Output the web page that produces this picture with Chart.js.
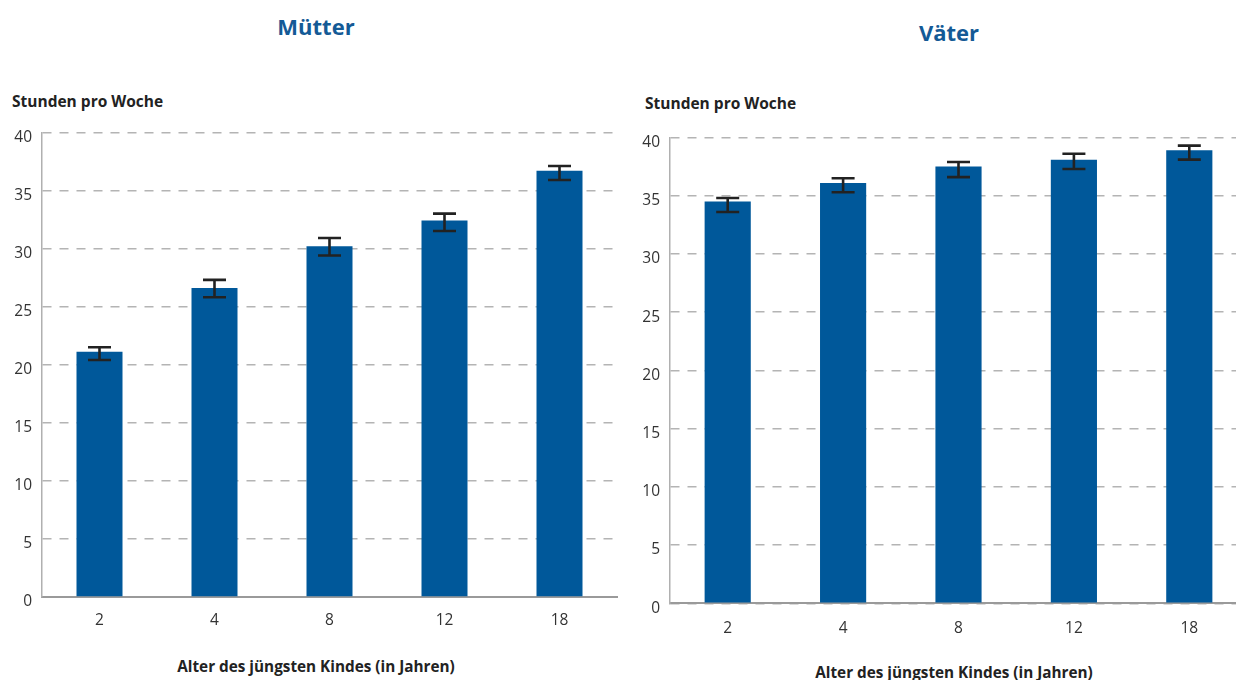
<!DOCTYPE html>
<html>
<head>
<meta charset="utf-8">
<script src="https://cdn.jsdelivr.net/npm/chart.js@4/dist/chart.umd.min.js"></script>
<style>
  html, body { margin: 0; padding: 0; width: 1236px; height: 680px; overflow: hidden; background: #fff; }
  body { position: relative; font-family: "Open Sans", sans-serif; }
  .title { position: absolute; font-weight: bold; font-size: 22px; color: #145a96; transform: translate(-50%, -50%); white-space: nowrap; }
  .ylab { position: absolute; font-weight: bold; font-size: 15.5px; color: #222; transform: translateY(-50%); white-space: nowrap; }
  .xlab { position: absolute; font-weight: bold; font-size: 15.3px; color: #222; transform: translate(-50%, -50%); white-space: nowrap; }
  canvas { position: absolute; top: 0; }
</style>
</head>
<body>
<div class="title" style="left:316px; top:26px;">Mütter</div>
<div class="title" style="left:949px; top:32px;">Väter</div>
<div class="ylab" style="left:12px; top:101px;">Stunden pro Woche</div>
<div class="ylab" style="left:645px; top:103px;">Stunden pro Woche</div>
<div class="xlab" style="left:316px; top:666px;">Alter des jüngsten Kindes (in Jahren)</div>
<div class="xlab" style="left:954px; top:672px;">Alter des jüngsten Kindes (in Jahren)</div>
<canvas id="cM" width="618" height="680" style="left:0px;width:618px;height:680px;"></canvas>
<canvas id="cV" width="620" height="680" style="left:628px;width:620px;height:680px;"></canvas>
<script>
const categories = ['2', '4', '8', '12', '18'];
const yTicks = [0, 5, 10, 15, 20, 25, 30, 35, 40];

const muetterValues = [21.1, 26.6, 30.2, 32.4, 36.7];
const muetterLow    = [20.4, 25.8, 29.4, 31.5, 35.9];
const muetterHigh   = [21.5, 27.3, 30.9, 33.0, 37.1];

const vaeterValues = [34.5, 36.1, 37.5, 38.1, 38.9];
const vaeterLow    = [33.6, 35.3, 36.6, 37.3, 38.1];
const vaeterHigh   = [34.8, 36.5, 37.9, 38.6, 39.3];

const BAR_COLOR = '#00589a';

const errorBarPlugin = {
  id: 'errorBars',
  afterDatasetsDraw(chart, args, opts) {
    const ctx = chart.ctx;
    const xs = chart.scales.x, ys = chart.scales.y;
    ctx.save();
    ctx.strokeStyle = '#222';
    ctx.lineWidth = 2.6;
    ctx.lineCap = 'butt';
    opts.low.forEach((lo, i) => {
      const hi = opts.high[i];
      const x = xs.getPixelForValue(i);
      const yl = ys.getPixelForValue(lo);
      const yh = ys.getPixelForValue(hi);
      ctx.beginPath();
      ctx.moveTo(x, yl); ctx.lineTo(x, yh);
      ctx.moveTo(x - 11.5, yl); ctx.lineTo(x + 11.5, yl);
      ctx.moveTo(x - 11.5, yh); ctx.lineTo(x + 11.5, yh);
      ctx.stroke();
    });
    ctx.restore();
  }
};

function makeChart(id, values, low, high, topPad, rightPad, xHeight, xPad) {
  return new Chart(document.getElementById(id), {
    type: 'bar',
    data: {
      labels: categories,
      datasets: [{
        data: values,
        backgroundColor: BAR_COLOR,
        borderWidth: 0,
        barPercentage: 0.4,
        categoryPercentage: 1.0
      }]
    },
    plugins: [errorBarPlugin],
    options: {
      responsive: false,
      animation: false,
      devicePixelRatio: 1,
      layout: { padding: { top: topPad, left: 0, right: rightPad, bottom: 0 } },
      plugins: {
        legend: { display: false },
        tooltip: { enabled: false },
        title: { display: false },
        errorBars: { low: low, high: high }
      },
      scales: {
        x: {
          grid: { display: false, drawTicks: false },
          border: { display: true, color: '#9a9a9a', width: 2 },
          ticks: { color: '#333', font: { family: 'Open Sans', size: 15.5 }, padding: xPad, maxRotation: 0 },
          afterFit(scale) { scale.height = xHeight; }
        },
        y: {
          min: 0, max: 40,
          afterBuildTicks(scale) { scale.ticks = yTicks.map(v => ({ value: v })); },
          grid: {
            color: '#b4b4b4', lineWidth: 1.5, drawTicks: false
          },
          border: { display: true, color: '#b0b0b0', width: 1.5, dash: [9, 8] },
          ticks: { color: '#333', font: { family: 'Open Sans', size: 15.5 }, padding: 10, labelOffset: 5 },
          afterFit(scale) { scale.width = 42; }
        }
      }
    }
  });
}

makeChart('cM', muetterValues, muetterLow, muetterHigh, 132.3, 1, 83, 14);
makeChart('cV', vaeterValues, vaeterLow, vaeterHigh, 137.5, 1, 76.7, 16);
</script>
</body>
</html>
